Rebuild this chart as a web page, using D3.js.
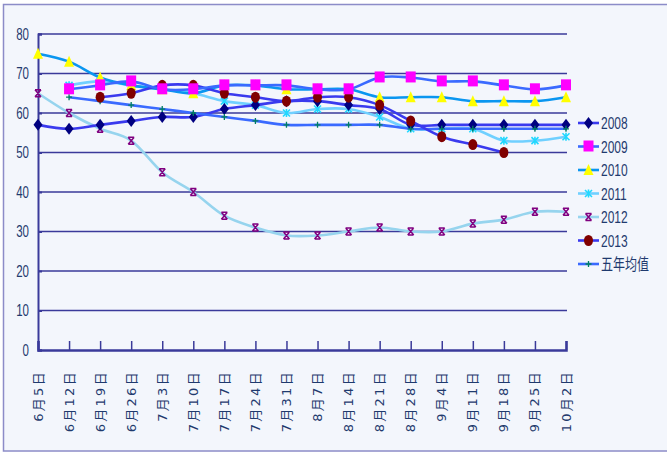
<!DOCTYPE html>
<html><head><meta charset="utf-8">
<script src="https://cdn.jsdelivr.net/npm/d3@7"></script>
<style>
html,body{margin:0;padding:0;background:#fff;}
svg{display:block;}
</style></head>
<body>
<svg id="c" width="667" height="452"></svg>
<script>
const categories = ["6月5日","6月12日","6月19日","6月26日","7月3日","7月10日","7月17日","7月24日","7月31日","8月7日","8月14日","8月21日","8月28日","9月4日","9月11日","9月18日","9月25日","10月2日"];
const yTicks = [0,10,20,30,40,50,60,70,80];
const seriesNames = ["2008","2009","2010","2011","2012","2013","五年均值"];
const s2008 = [57,56,57,58,59,59,61,62,63,63,62,61,57,57,57,57,57,57];
const s2009 = [null,66,67,68,66,66,67,67,67,66,66,69,69,68,68,67,66,67];
const s2010 = [75,73,69,67,66,65,67,67,66,66,66,64,64,64,63,63,63,64];
const s2011 = [null,67,68,67,66,65,63,62,60,61,61,59,56,56,56,53,53,54];
const s2012 = [65,60,56,53,45,40,34,31,29,29,30,31,30,30,32,33,35,35];
const s2013 = [null,null,64,65,67,67,65,64,63,64,64,62,58,54,52,50,null,null];
const sAvg  = [null,64,63,62,61,60,59,58,57,57,57,57,56,56,56,56,56,56];

const values = [s2008,s2009,s2010,s2011,s2012,s2013,sAvg];
const styles = [
  {line:"#3a3aee", marker:"diamond", fill:"#000080"},
  {line:"#3a6aff", marker:"square", fill:"#ff00ff"},
  {line:"#0a96f0", marker:"triangle", fill:"#ffff00"},
  {line:"#70d0ff", marker:"star", fill:"#20d8ff"},
  {line:"#96d4ee", marker:"bowtie", fill:"#800080"},
  {line:"#3a3aee", marker:"circle", fill:"#800000"},
  {line:"#3a6aff", marker:"plus", fill:"#008060"}
];

const svg = d3.select("#c");
svg.append("rect").attr("x",0).attr("y",0).attr("width",667).attr("height",452).attr("fill","#ffffff");
svg.append("rect").attr("x",3.5).attr("y",4.5).attr("width",670).attr("height",446.5)
  .attr("fill","#f3f6fc").attr("stroke","#8c8cc8").attr("stroke-width",1.5);

const L=38, R=566, T=34, B=350;
const x = d3.scalePoint().domain(categories).range([L,R]);
const y = d3.scaleLinear().domain([0,80]).range([B,T]);
const axisColor = "#3a3a9a";
const textColor = "#1f3a6e";

// gridlines
svg.append("g").selectAll("line").data(yTicks.filter(d=>d>0)).join("line")
  .attr("x1",L).attr("x2",R+1).attr("y1",d=>y(d)).attr("y2",d=>y(d))
  .attr("stroke",axisColor).attr("stroke-width",1.3);

// y axis
const ya = svg.append("g").attr("transform",`translate(${L},0)`)
  .call(d3.axisRight(y).tickValues(yTicks).tickSize(4).tickFormat(""));
ya.select(".domain").attr("stroke",axisColor).attr("stroke-width",2);
ya.selectAll(".tick line").attr("stroke",axisColor).attr("stroke-width",2);
svg.append("g").selectAll("text").data(yTicks).join("text")
  .attr("transform",d=>`translate(29,${y(d)+5.5}) scale(0.72,1)`).attr("text-anchor","end")
  .attr("font-family","'Liberation Sans','DejaVu Sans',sans-serif")
  .attr("font-size",16).attr("fill",textColor).text(d=>d);

// x axis
const xa = svg.append("g").attr("transform",`translate(0,${B})`)
  .call(d3.axisTop(x).tickSize(9).tickFormat(""));
xa.select(".domain").attr("stroke",axisColor).attr("stroke-width",2.5);
xa.selectAll(".tick line").attr("stroke",axisColor).attr("stroke-width",1.5);
svg.append("g").selectAll("text").data(categories).join("text")
  .attr("transform",d=>`translate(${x(d)+4.5},370) rotate(-90)`)
  .attr("text-anchor","end")
  .attr("font-family","'DejaVu Sans','Noto Sans CJK SC',sans-serif")
  .attr("letter-spacing",2.3)
  .attr("font-size",13).attr("fill",textColor).text(d=>d);

function drawMarker(g, type, fill, cx, cy){
  if(type==="diamond"){
    g.append("path").attr("d",`M${cx},${cy-6}L${cx+4.5},${cy}L${cx},${cy+6}L${cx-4.5},${cy}Z`).attr("fill",fill);
  } else if(type==="square"){
    g.append("rect").attr("x",cx-5).attr("y",cy-6).attr("width",10).attr("height",11).attr("fill",fill);
  } else if(type==="triangle"){
    g.append("path").attr("d",`M${cx},${cy-6}L${cx+5},${cy+5}L${cx-5},${cy+5}Z`).attr("fill",fill);
  } else if(type==="star"){
    g.append("path").attr("d",`M${cx-3.5},${cy-3.5}L${cx+3.5},${cy+3.5}M${cx+3.5},${cy-3.5}L${cx-3.5},${cy+3.5}M${cx},${cy-4}L${cx},${cy+4}`)
      .attr("stroke",fill).attr("stroke-width",1.6).attr("fill","none");
  } else if(type==="bowtie"){
    g.append("path").attr("d",`M${cx-3},${cy-3.5}L${cx+3},${cy+3.5}M${cx+3},${cy-3.5}L${cx-3},${cy+3.5}M${cx-3},${cy-3.5}L${cx+3},${cy-3.5}M${cx-3},${cy+3.5}L${cx+3},${cy+3.5}`)
      .attr("stroke",fill).attr("stroke-width",1.5).attr("fill","none");
  } else if(type==="circle"){
    g.append("ellipse").attr("cx",cx).attr("cy",cy).attr("rx",4.5).attr("ry",5.5).attr("fill",fill);
  } else if(type==="plus"){
    g.append("path").attr("d",`M${cx-3},${cy}L${cx+3},${cy}M${cx},${cy-3}L${cx},${cy+3}`)
      .attr("stroke",fill).attr("stroke-width",1.3).attr("fill","none");
  }
}

const line = d3.line().defined(d=>d.v!=null).x(d=>x(d.c)).y(d=>y(d.v)).curve(d3.curveCardinal.tension(0));
const order = [4,3,0,6,2,5,1];
order.forEach(i=>{
  const data = categories.map((c,j)=>({c, v: values[i][j]}));
  svg.append("path").datum(data).attr("d",line).attr("fill","none")
    .attr("stroke",styles[i].line).attr("stroke-width",2.6).attr("stroke-linejoin","round");
});
order.forEach(i=>{
  const g = svg.append("g");
  categories.forEach((c,j)=>{
    const v = values[i][j];
    if(v!=null) drawMarker(g, styles[i].marker, styles[i].fill, x(c), y(v));
  });
});

// legend
const lg = svg.append("g");
seriesNames.forEach((n,i)=>{
  const ly = 123 + i*23.5;
  lg.append("line").attr("x1",578).attr("x2",599).attr("y1",ly).attr("y2",ly)
    .attr("stroke",styles[i].line).attr("stroke-width",2.6);
  drawMarker(lg, styles[i].marker, styles[i].fill, 588.5, ly);
  lg.append("text").attr("transform",`translate(601,${ly+6}) scale(0.75,1)`)
    .attr("font-family","'Liberation Sans','DejaVu Sans','Noto Sans CJK SC',sans-serif")
    .attr("font-size",16).attr("fill",textColor).text(n);
});
</script>
</body></html>
